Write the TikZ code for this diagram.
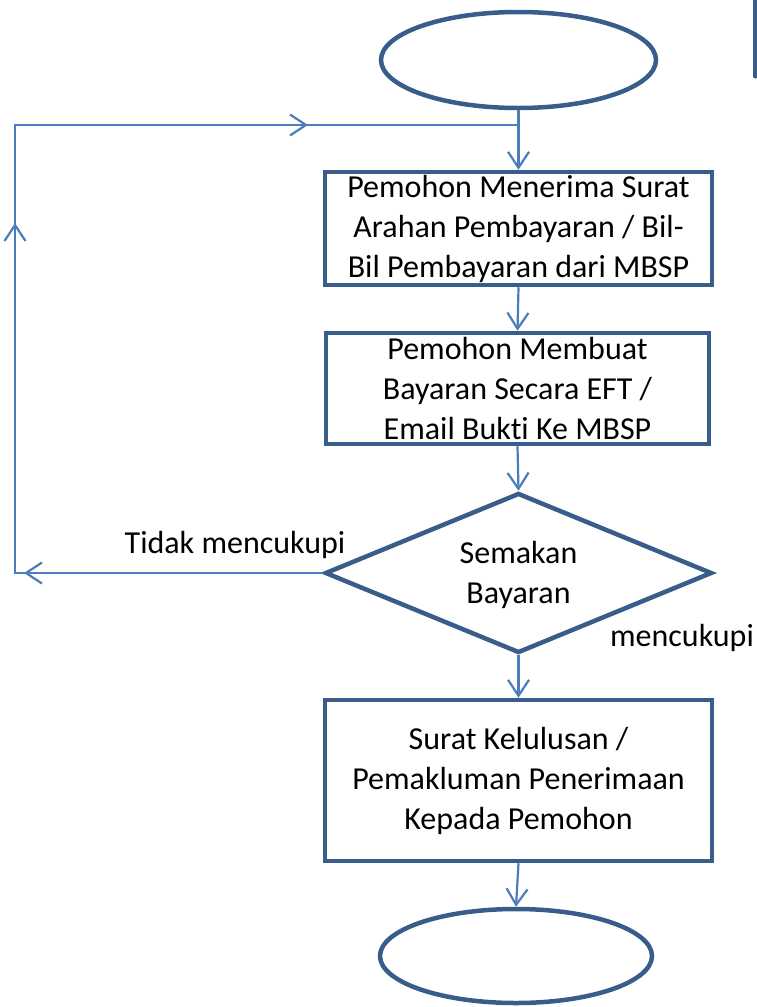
\documentclass[tikz,border=0pt]{standalone}
\usepackage{fontspec}
\setmainfont{Carlito}[Ligatures={NoCommon}]
\usetikzlibrary{shapes.geometric,arrows.meta}
\definecolor{shapeblue}{RGB}{56,93,138}
\definecolor{lineblue}{RGB}{74,126,187}
\tikzset{
  boxnode/.style={draw=shapeblue, line width=4.5pt, rectangle, align=center, inner sep=0pt},
  termnode/.style={draw=shapeblue, line width=4.5pt, ellipse, inner sep=0pt},
  decnode/.style={draw=shapeblue, line width=4.5pt, diamond, inner sep=0pt, aspect=2.4},
  conn/.style={draw=lineblue, line width=2.2pt, -{Straight Barb[length=16pt,width=21pt]}},
  plainconn/.style={draw=lineblue, line width=2.2pt},
  lbl/.style={inner sep=0pt}
}
\begin{document}
\begin{tikzpicture}[x=1pt,y=-1pt]
\useasboundingbox (0,0) rectangle (757,1007);
\fontsize{32}{40}\selectfont
\node[termnode, minimum width=275pt, minimum height=96pt] (start) at (518.5,60) {};
\draw[draw=shapeblue, line width=5pt, line cap=round] (755,-5) -- (755,76);
\node[boxnode, minimum width=387pt, minimum height=113pt] (b1) at (518.5,228.5)
  {Pemohon Menerima Surat\\Arahan Pembayaran / Bil-\\Bil Pembayaran dari MBSP};
\node[boxnode, minimum width=383pt, minimum height=111pt] (b2) at (517.5,388.5)
  {Pemohon Membuat\\Bayaran Secara EFT /\\Email Bukti Ke MBSP};
\node[decnode, minimum width=387pt, minimum height=160pt] (d) at (518.5,573) {};
\node[lbl, align=center] (dtext) at (518.5,575) {Semakan\\Bayaran};
\node[boxnode, minimum width=387pt, minimum height=161pt] (b3) at (518.5,780.5)
  {Surat Kelulusan /\\Pemakluman Penerimaan\\Kepada Pemohon};
\node[termnode, minimum width=272pt, minimum height=94pt] (end) at (516,956) {};
\node[lbl] (no) at (235,545) {Tidak mencukupi};
\node[lbl] (yes) at (682,638) {mencukupi};
\coordinate (j) at (518.5,125);
\coordinate (ul) at (15,125);
\coordinate (ll) at (15,573);
\coordinate (upmid) at (15,223);
\coordinate (rmid) at (308,125);
\draw[conn] (start.south) -- (b1.north);
\draw[conn] (b1.south) -- (b2.north);
\draw[conn] (b2.south) -- (d.north);
\draw[conn] (d.south) -- (b3.north);
\draw[conn] (b3.south) -- (end.north);
\draw[conn] (d.west) -- ([xshift=9pt]ll);
\draw[plainconn] (d.west) -- (ll) -- (ul) -- (j);
\draw[conn] (ll) -- (upmid);
\draw[conn] (ul) -- (rmid);
\end{tikzpicture}
\end{document}
